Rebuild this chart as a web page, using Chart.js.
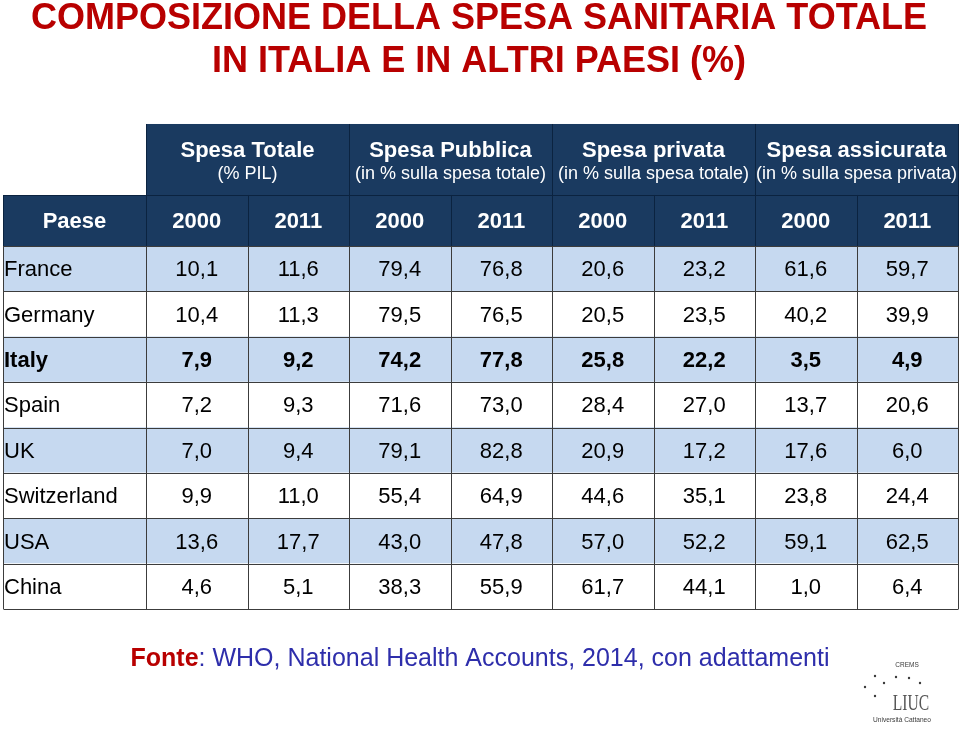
<!DOCTYPE html>
<html><head><meta charset="utf-8">
<script src="https://cdn.jsdelivr.net/npm/chart.js@4.4.1/dist/chart.umd.min.js"></script>
<style>html,body{margin:0;padding:0;background:#fff}#wrap{width:960px;height:731px;position:relative}</style>
</head><body><div id="wrap"><canvas id="c"></canvas></div>
<script>
// ---- data ----
const titleLines = ['COMPOSIZIONE DELLA SPESA SANITARIA TOTALE', 'IN ITALIA E IN ALTRI PAESI (%)'];
const countries = ['France', 'Germany', 'Italy', 'Spain', 'UK', 'Switzerland', 'USA', 'China'];
const highlightedCountries = ['Italy'];
const firstColumnLabel = 'Paese';
const groupTitles = ['Spesa Totale', 'Spesa Pubblica', 'Spesa privata', 'Spesa assicurata'];
const groupSubtitles = ['(% PIL)', '(in % sulla spesa totale)', '(in % sulla spesa totale)', '(in % sulla spesa privata)'];
const years = ['2000', '2011'];
const spesaTotale2000 = [10.1, 10.4, 7.9, 7.2, 7.0, 9.9, 13.6, 4.6];
const spesaTotale2011 = [11.6, 11.3, 9.2, 9.3, 9.4, 11.0, 17.7, 5.1];
const spesaPubblica2000 = [79.4, 79.5, 74.2, 71.6, 79.1, 55.4, 43.0, 38.3];
const spesaPubblica2011 = [76.8, 76.5, 77.8, 73.0, 82.8, 64.9, 47.8, 55.9];
const spesaPrivata2000 = [20.6, 20.5, 25.8, 28.4, 20.9, 44.6, 57.0, 61.7];
const spesaPrivata2011 = [23.2, 23.5, 22.2, 27.0, 17.2, 35.1, 52.2, 44.1];
const spesaAssicurata2000 = [61.6, 40.2, 3.5, 13.7, 17.6, 23.8, 59.1, 1.0];
const spesaAssicurata2011 = [59.7, 39.9, 4.9, 20.6, 6.0, 24.4, 62.5, 6.4];
const sourceLabel = 'Fonte';
const sourceText = ': WHO, National Health Accounts, 2014, con adattamenti';
const logoTop = 'CREMS';
const logoMain = 'LIUC';
const logoBottom = 'Università Cattaneo';

// ---- layout / style ----
const FIRST_W = 1.409;      // width of country column, in value-column units
const H1 = 1.565, H2 = 1.124; // header row heights, in body-row units
const NAVY = '#1a3a60', LIGHT = '#c6d9f0', GRID = '#3c3c3c', HGRID = '#0b2340';
const SANS = '"Liberation Sans", Arial, Helvetica, sans-serif';

const valueColumns = [spesaTotale2000, spesaTotale2011, spesaPubblica2000, spesaPubblica2011,
  spesaPrivata2000, spesaPrivata2011, spesaAssicurata2000, spesaAssicurata2011];
const fmt = v => v.toFixed(1).replace('.', ',');
const rowBg = ctx => (ctx.dataIndex % 2 === 0 ? LIGHT : '#ffffff');

const datasets = [{
  label: firstColumnLabel,
  data: countries.map(c => ({ y: c, x: [-FIRST_W, 0], t: c })),
  align: 'left'
}].concat(valueColumns.map((arr, k) => ({
  label: groupTitles[Math.floor(k / 2)] + ' ' + years[k % 2],
  data: arr.map((v, i) => ({ y: countries[i], x: [k, k + 1], t: fmt(v) })),
  align: 'center'
}))).map(d => Object.assign(d, {
  grouped: false, barPercentage: 1, categoryPercentage: 1,
  backgroundColor: rowBg, borderWidth: 0
}));

const tablePlugin = {
  id: 'tablePlugin',
  beforeDatasetsDraw(chart) {
    const { ctx, scales: { x, y }, chartArea: ca } = chart;
    const band = y.getPixelForValue(1) - y.getPixelForValue(0);
    const h2Top = ca.top - H2 * band, h1Top = h2Top - H1 * band;
    ctx.save();
    ctx.fillStyle = NAVY;
    ctx.fillRect(x.getPixelForValue(0), h1Top, x.getPixelForValue(8) - x.getPixelForValue(0), h2Top - h1Top);
    ctx.fillRect(x.getPixelForValue(-FIRST_W), h2Top, x.getPixelForValue(8) - x.getPixelForValue(-FIRST_W), ca.top - h2Top);
    ctx.restore();
  },
  afterDatasetsDraw(chart) {
    const { ctx, scales: { x, y }, chartArea: ca } = chart;
    const band = y.getPixelForValue(1) - y.getPixelForValue(0);
    const h2Top = ca.top - H2 * band, h1Top = h2Top - H1 * band;
    const px = v => Math.round(x.getPixelForValue(v)) + 0.5;
    ctx.save();
    // header grid
    ctx.strokeStyle = HGRID; ctx.lineWidth = 1;
    ctx.beginPath();
    for (let k = 0; k <= 8; k += 2) { ctx.moveTo(px(k), h1Top); ctx.lineTo(px(k), h2Top); }
    for (let k = -1; k <= 8; k++) { const v = k < 0 ? -FIRST_W : k; ctx.moveTo(px(v), h2Top); ctx.lineTo(px(v), ca.top); }
    ctx.moveTo(px(-FIRST_W), Math.round(h2Top) + 0.5); ctx.lineTo(px(8), Math.round(h2Top) + 0.5);
    ctx.stroke();
    // body grid
    ctx.strokeStyle = GRID;
    ctx.beginPath();
    for (let k = -1; k <= 8; k++) { const v = k < 0 ? -FIRST_W : k; ctx.moveTo(px(v), ca.top); ctx.lineTo(px(v), ca.bottom); }
    for (let i = 0; i <= countries.length; i++) {
      const yy = Math.round(ca.top + i * band) + 0.5;
      ctx.moveTo(px(-FIRST_W), yy); ctx.lineTo(px(8), yy);
    }
    ctx.stroke();
    // header texts
    ctx.fillStyle = '#ffffff'; ctx.textAlign = 'center'; ctx.textBaseline = 'middle';
    groupTitles.forEach((t, g) => {
      const cx = (x.getPixelForValue(2 * g) + x.getPixelForValue(2 * g + 2)) / 2;
      ctx.font = 'bold 22px ' + SANS;
      ctx.fillText(t, cx, h1Top + 27);
      ctx.font = '18px ' + SANS;
      ctx.fillText(groupSubtitles[g], cx, h1Top + 50);
    });
    ctx.font = 'bold 22px ' + SANS;
    const h2Mid = (h2Top + ca.top) / 2 + 1;
    ctx.fillText(firstColumnLabel, (x.getPixelForValue(-FIRST_W) + x.getPixelForValue(0)) / 2, h2Mid);
    for (let k = 0; k < 8; k++) ctx.fillText(years[k % 2], x.getPixelForValue(k + 0.5), h2Mid);
    // body texts from bar elements
    ctx.fillStyle = '#000000';
    chart.data.datasets.forEach((ds, di) => {
      chart.getDatasetMeta(di).data.forEach((bar, i) => {
        const bold = highlightedCountries.includes(countries[i]);
        ctx.font = (bold ? 'bold ' : '') + '22px ' + SANS;
        const p = bar.getProps(['x', 'y', 'base'], true);
        const left = Math.min(p.x, p.base), right = Math.max(p.x, p.base);
        const ty = p.y + 1.5;
        if (ds.align === 'left') { ctx.textAlign = 'left'; ctx.fillText(ds.data[i].t, left + 1, ty); }
        else { ctx.textAlign = 'center'; ctx.fillText(ds.data[i].t, (left + right) / 2, ty); }
      });
    });
    ctx.restore();
  },
  afterDraw(chart) {
    const { ctx } = chart;
    ctx.save();
    ctx.textBaseline = 'middle'; ctx.textAlign = 'center';
    ctx.fillStyle = '#b80000';
    ctx.font = 'bold 36px ' + SANS;
    ctx.fillText(titleLines[0], 479, 19);
    ctx.fillText(titleLines[1], 479, 62);
    // source
    ctx.font = 'bold 25px ' + SANS;
    const w1 = ctx.measureText(sourceLabel).width;
    ctx.font = '25px ' + SANS;
    const w2 = ctx.measureText(sourceText).width;
    const x0 = 480 - (w1 + w2) / 2;
    ctx.textAlign = 'left';
    ctx.font = 'bold 25px ' + SANS; ctx.fillStyle = '#b80000';
    ctx.fillText(sourceLabel, x0, 659);
    ctx.font = '25px ' + SANS; ctx.fillStyle = '#2e2eab';
    ctx.fillText(sourceText, x0 + w1, 659);
    // logo
    ctx.textAlign = 'center'; ctx.fillStyle = '#3a3a3a';
    ctx.font = '6.5px ' + SANS; ctx.fillText(logoTop, 907, 665);
    ctx.save();
    ctx.translate(911, 704); ctx.scale(0.65, 1);
    ctx.font = '24px "Liberation Serif", "Times New Roman", serif'; ctx.fillStyle = '#555555';
    ctx.fillText(logoMain, 0, 0);
    ctx.restore();
    ctx.font = '6.6px ' + SANS; ctx.fillText(logoBottom, 902, 720);
    [[865, 687], [875, 676], [884, 683], [896, 677], [909, 678], [920, 683], [875, 696]].forEach(([a, b]) => {
      ctx.beginPath(); ctx.arc(a, b, 1.2, 0, Math.PI * 2); ctx.fill();
    });
    ctx.restore();
  }
};

new Chart(document.getElementById('c'), {
  type: 'bar',
  data: { labels: countries, datasets },
  options: {
    indexAxis: 'y',
    responsive: true, maintainAspectRatio: false, animation: false,
    layout: { padding: { top: 246, bottom: 122, left: 3, right: 2 } },
    scales: {
      x: { type: 'linear', min: -FIRST_W, max: 8, display: false },
      y: { type: 'category', display: false, offset: true }
    },
    plugins: { legend: { display: false }, tooltip: { enabled: false }, title: { display: false } }
  },
  plugins: [tablePlugin]
});
</script></body></html>
